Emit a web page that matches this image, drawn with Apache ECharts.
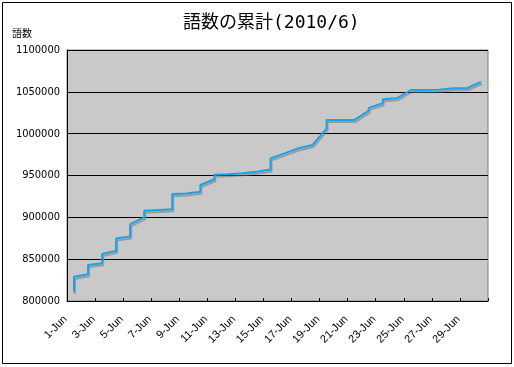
<!DOCTYPE html>
<html>
<head>
<meta charset="utf-8">
<script src="https://cdn.jsdelivr.net/npm/echarts@6/dist/echarts.min.js"></script>
<style>html,body{margin:0;padding:0;background:#fff}#c{width:514px;height:367px}</style>
</head>
<body>
<div id="c"></div>
<script>
// Categories (days of June 2010)
const days = ['1-Jun','2-Jun','3-Jun','4-Jun','5-Jun','6-Jun','7-Jun','8-Jun','9-Jun','10-Jun',
  '11-Jun','12-Jun','13-Jun','14-Jun','15-Jun','16-Jun','17-Jun','18-Jun','19-Jun','20-Jun',
  '21-Jun','22-Jun','23-Jun','24-Jun','25-Jun','26-Jun','27-Jun','28-Jun','29-Jun','30-Jun'];
// Each recorded point: day index and cumulative word count (several entries per day)
const pointDay = [0,0, 1,1, 2,2, 3,3, 4,4, 5,5, 6, 7,7, 8, 9,9, 10,10, 11, 12, 13, 14,14, 15, 16, 17, 18,18, 19, 20, 21,21, 22,22, 23, 24, 25, 26, 27, 28, 29];
const pointWords = [811000,829000, 832000,843000, 845000,856200, 860000,874700, 877000,891800, 900000,907900, 908700, 909600,927900, 928400, 930600,938700, 945500,950900, 951600, 952600, 954600, 957200,970300, 976500, 982500, 986500, 1006400,1016400, 1016400, 1016400, 1027500,1030800, 1036300,1041100, 1042300, 1052200, 1052300, 1052600, 1054200, 1054300, 1061800];
const yTicks = [800000, 850000, 900000, 950000, 1000000, 1050000, 1100000];

const seriesData = pointDay.map((d, i) => [d, pointWords[i]]);

const chart = echarts.init(document.getElementById('c'), null, {renderer: 'canvas'});
chart.setOption({
  animation: false,
  backgroundColor: '#ffffff',
  title: [{
    text: '語数の累計(2010/6)',
    left: 178, top: 9,
    textStyle: {fontFamily: "'DejaVu Sans Mono','Noto Sans CJK JP'", fontSize: 18, fontWeight: 'normal', color: '#000'}
  }, {
    text: '語数',
    left: 7, top: 23,
    textStyle: {fontFamily: "'Noto Sans CJK JP'", fontSize: 10, fontWeight: 'normal', color: '#000'}
  }],
  graphic: [{
    type: 'rect', silent: true, z: 100,
    shape: {x: 2.5, y: 2.5, width: 509, height: 361},
    style: {fill: 'none', stroke: '#000', lineWidth: 1}
  }],
  grid: {
    left: 67, right: 26, top: 50, bottom: 66,
    show: true, backgroundColor: '#c9c9c9', borderColor: '#808080', borderWidth: 1
  },
  xAxis: {
    type: 'category',
    data: days,
    boundaryGap: true,
    axisLine: {lineStyle: {color: '#000', width: 1}},
    axisTick: {show: true, inside: true, length: 3, interval: 1, lineStyle: {color: '#000'}},
    axisLabel: {
      interval: 1, rotate: 45, margin: 8,
      padding: [0, 12, 0, 0],
      fontFamily: "'Liberation Sans', Arial, sans-serif", fontSize: 11, color: '#000'
    },
    splitLine: {show: false}
  },
  yAxis: {
    type: 'value',
    min: yTicks[0], max: yTicks[yTicks.length - 1], interval: 50000,
    axisLine: {show: true, lineStyle: {color: '#000', width: 1}},
    axisTick: {show: false},
    axisLabel: {
      margin: 7, formatter: v => String(v),
      fontFamily: "'Liberation Sans Narrow','DejaVu Sans Condensed', sans-serif", fontSize: 11, color: '#000'
    },
    splitLine: {show: true, lineStyle: {color: '#000', width: 1}}
  },
  series: [{
    type: 'line',
    data: seriesData,
    showSymbol: false,
    symbol: 'none',
    lineStyle: {color: '#1aa3e8', width: 2, shadowColor: 'rgba(110,110,110,0.5)', shadowOffsetX: 1, shadowOffsetY: 2, shadowBlur: 0},
    z: 5
  }]
});
</script>
</body>
</html>
